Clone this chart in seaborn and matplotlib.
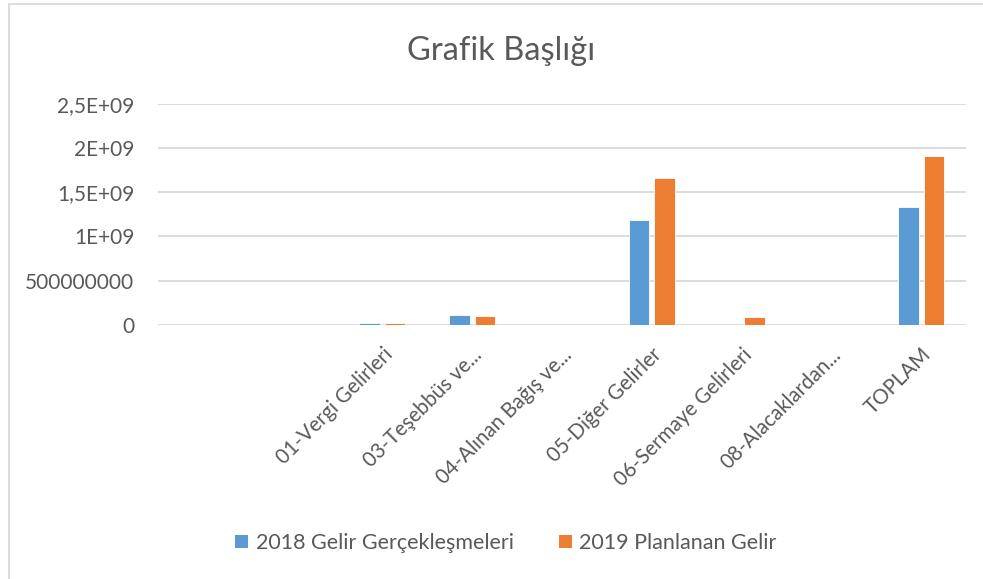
import numpy as np
import pandas as pd
import matplotlib
matplotlib.use("Agg")
import matplotlib.pyplot as plt
import matplotlib.patches as mpatches
import seaborn as sns

# ---- data ----
categories = ["", " ", "01-Vergi Gelirleri", "03-Teşebbüs ve...", "04-Alınan Bağış ve...",
              "05-Diğer Gelirler", "06-Sermaye Gelirleri", "08-Alacaklardan...", "TOPLAM"]
series_names = ["2018 Gelir Gerçekleşmeleri", "2019 Planlanan Gelir"]
values_2018 = [np.nan, np.nan, 20e6, 113e6, np.nan, 1183e6, np.nan, np.nan, 1330e6]
values_2019 = [np.nan, np.nan, 25e6, 105e6, np.nan, 1661e6, 94e6, np.nan, 1910e6]
y_ticks = [0, 5e8, 1e9, 1.5e9, 2e9, 2.5e9]
y_tick_labels = ["0", "500000000", "1E+09", "1,5E+09", "2E+09", "2,5E+09"]
title = "Grafik Başlığı"

colors = ["#5B9BD5", "#ED7D31"]
text_color = "#595959"
grid_color = "#D9D9D9"

df = pd.DataFrame({
    "kategori": categories * 2,
    "seri": [series_names[0]] * len(categories) + [series_names[1]] * len(categories),
    "deger": values_2018 + values_2019,
})

sns.set_theme(style="white")
plt.rcParams["font.family"] = ["Lato", "DejaVu Sans"]

W, H = 983, 579
fig = plt.figure(figsize=(W / 100, H / 100), dpi=100)
ax = fig.add_axes([158 / W, 1 - 325 / H, (966 - 158) / W, (325 - 103.7) / H])

sns.barplot(data=df, x="kategori", y="deger", hue="seri", order=categories,
            hue_order=series_names, palette=colors, saturation=1, width=0.57, gap=0.2,
            edgecolor="white", linewidth=0.6, ax=ax, legend=False)

ax.set_ylim(0, 2.5e9)
ax.set_xlim(-0.5, len(categories) - 0.5)
ax.set_yticks(y_ticks)
ax.set_yticklabels(y_tick_labels)
ax.yaxis.grid(True, color=grid_color, linewidth=1.3)
ax.set_axisbelow(True)
for s in ax.spines.values():
    s.set_visible(False)
ax.set_xlabel("")
ax.set_ylabel("")
ax.tick_params(axis="y", length=0, pad=17, labelsize=15, labelcolor=text_color)
ax.tick_params(axis="x", length=0, pad=14, labelsize=14.8, labelcolor=text_color)
ax.set_xticks(range(len(categories)))
ax.set_xticklabels([c.strip() for c in categories], rotation=45, ha="right",
                   va="top", rotation_mode="anchor")

fig.text(501 / W, 1 - 60 / H, title, ha="center", va="baseline",
         fontsize=23.5, color=text_color)

handles = [mpatches.Patch(facecolor=c, edgecolor="none") for c in colors]
fig.legend(handles, series_names, loc="center", bbox_to_anchor=(506 / W, 1 - 543 / H),
           ncol=2, frameon=False, fontsize=15.5, labelcolor=text_color,
           handlelength=0.6, handleheight=0.6, handletextpad=0.35, columnspacing=2.1)

fig.patches.append(mpatches.Rectangle((9 / W, -0.1), 1.2, 1 - 4 / H + 0.1,
                                      transform=fig.transFigure, fill=False,
                                      edgecolor=grid_color, linewidth=1.3))

fig.savefig("out.png", dpi=100, facecolor="white")
